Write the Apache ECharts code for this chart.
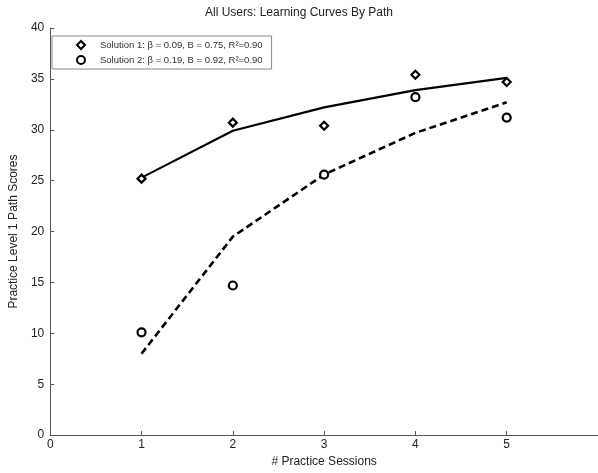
<!DOCTYPE html>
<html>
<head>
<meta charset="utf-8">
<script src="https://cdn.jsdelivr.net/npm/echarts@6/dist/echarts.min.js"></script>
<style>
html,body{margin:0;padding:0;background:#fff;}
#chart{width:598px;height:473px;}
</style>
</head>
<body>
<div id="chart"></div>
<script>
const sessions = [1, 2, 3, 4, 5];
const solution1Name = 'Solution 1: \u03b2 = 0.09, B = 0.75, R\u00b2=0.90';
const solution2Name = 'Solution 2: \u03b2 = 0.19, B = 0.92, R\u00b2=0.90';
const solution1Scores = [25.2, 30.7, 30.4, 35.4, 34.7];
const solution2Scores = [10.1, 14.7, 25.6, 33.2, 31.2];
const solution1Fit = [25.3, 29.9, 32.2, 33.9, 35.1];
const solution2Fit = [8.0, 19.5, 25.6, 29.7, 32.7];
const xTicks = [0, 1, 2, 3, 4, 5];

const pairs = (xs, ys) => xs.map((x, i) => [x, ys[i]]);
const font = 'Liberation Sans, Arial, sans-serif';

const chart = echarts.init(document.getElementById('chart'));
chart.setOption({
  animation: false,
  backgroundColor: '#fff',
  graphic: [{
    type: 'text',
    left: 'center',
    top: 7,
    style: {
      text: 'All Users: Learning Curves By Path',
      font: '12px ' + font,
      fill: '#222'
    }
  }],
  grid: { left: 48, right: -4, top: 28, bottom: 31 },
  legend: {
    orient: 'vertical',
    left: 52,
    top: 36,
    data: [solution1Name, solution2Name],
    itemWidth: 8,
    itemHeight: 8,
    itemGap: 5,
    padding: [4, 9, 4, 24],
    borderColor: '#888',
    borderWidth: 1,
    textStyle: { fontFamily: font, fontSize: 9.5, color: '#333', padding: [0, 0, 0, 10] }
  },
  xAxis: {
    type: 'value',
    min: 0,
    max: 6,
    name: '# Practice Sessions',
    nameLocation: 'middle',
    nameGap: 17,
    nameTextStyle: { fontFamily: font, fontSize: 12, color: '#222' },
    axisLine: { lineStyle: { color: '#555', width: 1 } },
    axisTick: { inside: true, length: 4, customValues: xTicks, lineStyle: { color: '#555' } },
    axisLabel: { customValues: xTicks, fontFamily: font, fontSize: 12, color: '#222', margin: 4 },
    splitLine: { show: false }
  },
  yAxis: {
    type: 'value',
    min: 0,
    max: 40,
    interval: 5,
    name: 'Practice Level 1 Path Scores',
    nameLocation: 'middle',
    nameGap: 22,
    nameTextStyle: { fontFamily: font, fontSize: 12, color: '#222' },
    axisLine: { show: true, lineStyle: { color: '#555', width: 1 } },
    axisTick: { show: true, inside: true, length: 4, lineStyle: { color: '#555' } },
    axisLabel: { fontFamily: font, fontSize: 12, color: '#222', margin: 6 },
    splitLine: { show: false }
  },
  series: [
    {
      name: solution1Name,
      type: 'scatter',
      symbol: 'diamond',
      symbolSize: 8,
      itemStyle: { color: '#fff', borderColor: '#000', borderWidth: 2.2, opacity: 1 },
      data: pairs(sessions, solution1Scores),
      z: 5
    },
    {
      name: solution2Name,
      type: 'scatter',
      symbol: 'circle',
      symbolSize: 8,
      itemStyle: { color: '#fff', borderColor: '#000', borderWidth: 2.2, opacity: 1 },
      data: pairs(sessions, solution2Scores),
      z: 5
    },
    {
      name: 'fit1',
      type: 'line',
      showSymbol: false,
      symbol: 'none',
      lineStyle: { color: '#000', width: 2.2, type: 'solid' },
      data: pairs(sessions, solution1Fit),
      z: 3
    },
    {
      name: 'fit2',
      type: 'line',
      showSymbol: false,
      symbol: 'none',
      lineStyle: { color: '#000', width: 2.6, type: [7, 4] },
      data: pairs(sessions, solution2Fit),
      z: 3
    }
  ]
});
</script>
</body>
</html>
